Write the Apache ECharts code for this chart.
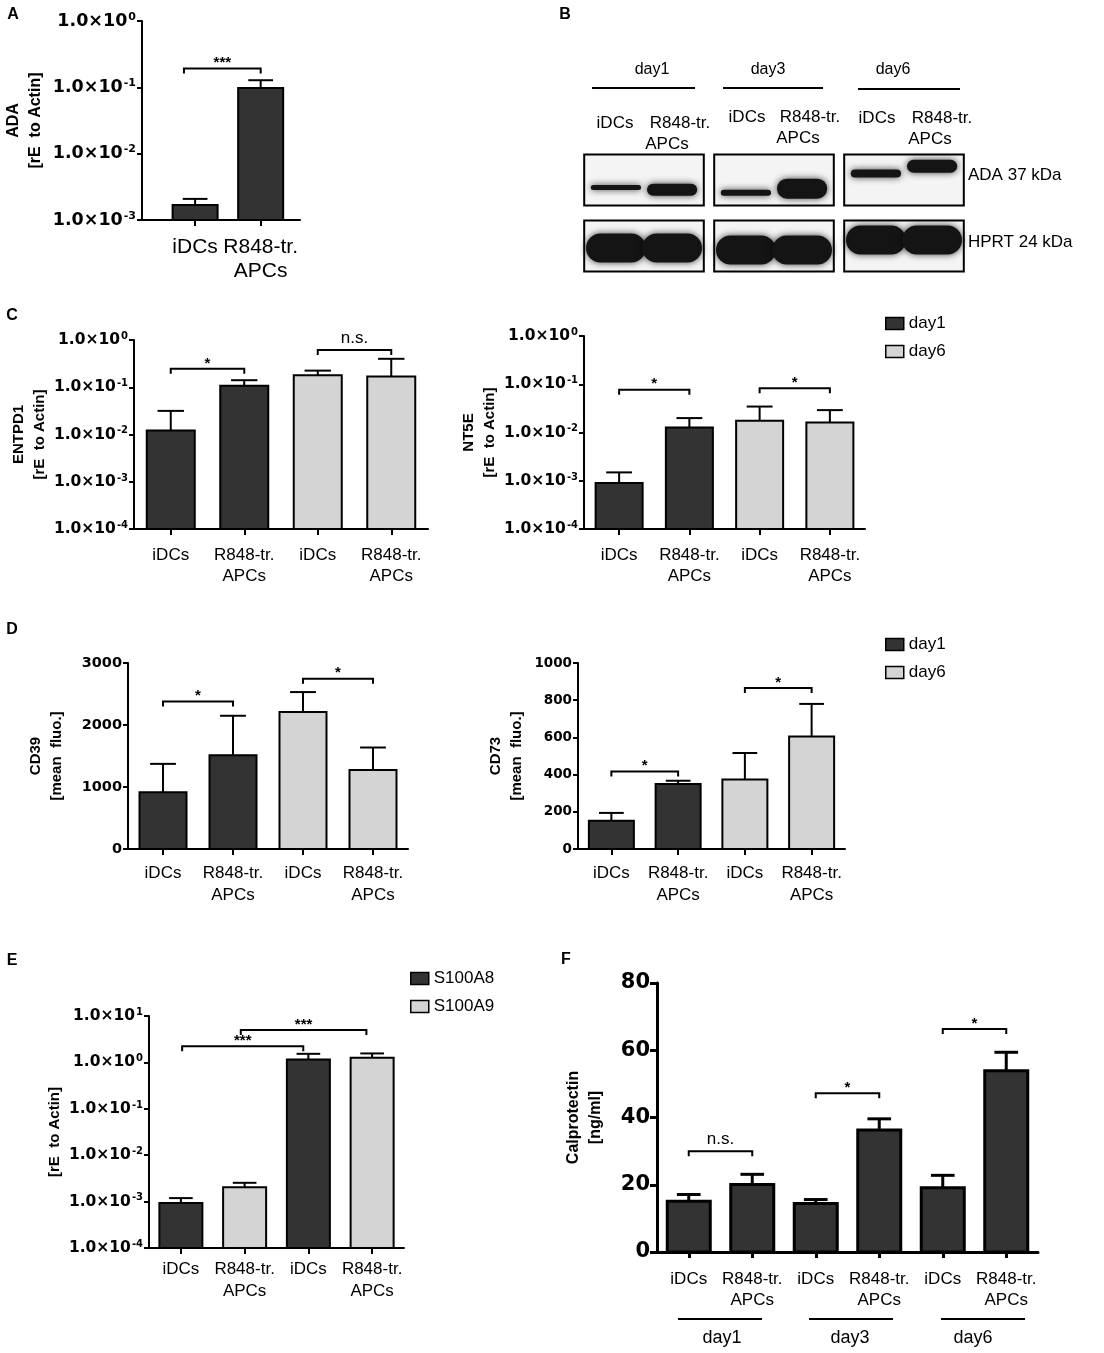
<!DOCTYPE html>
<html>
<head>
<meta charset="utf-8">
<script src="https://cdn.jsdelivr.net/npm/echarts@6/dist/echarts.min.js"></script>
<style>html,body{margin:0;padding:0;background:#fff}#main{width:1104px;height:1353px}</style>
</head>
<body>
<div id="main"></div>
<script>
// values (means and SEM-like error heights)
var twoCats = ['iDCs', 'R848-tr.\nAPCs'];
var fourCats = ['iDCs', 'R848-tr.\nAPCs', 'iDCs', 'R848-tr.\nAPCs'];
var sixCats = ['iDCs', 'R848-tr.\nAPCs', 'iDCs', 'R848-tr.\nAPCs', 'iDCs', 'R848-tr.\nAPCs'];

var adaMean = [0.00168, 0.098];
var adaSem = [0.0004, 0.030];
var adaSig = [[0.83, 2, 0.193]];
var adaSigText = ['***'];

var dayGroup = [0, 0, 1, 1];
var entpd1Mean = [0.0121, 0.107, 0.18, 0.168];
var entpd1Sem = [0.0195, 0.034, 0.045, 0.232];
var entpd1Sig = [[1, 2, 0.245], [3, 4, 0.617]];
var entpd1SigText = ['*', 'n.s.'];

var nt5eMean = [0.0009, 0.0127, 0.0175, 0.0161];
var nt5eSem = [0.00059, 0.0072, 0.017, 0.013];
var nt5eSig = [[1, 2, 0.0766], [3, 4, 0.0828]];
var nt5eSigText = ['*', '*'];

var cd39Mean = [916, 1514, 2208, 1276];
var cd39Sem = [457, 635, 323, 361];
var cd39Sig = [[1, 2, 2380], [3, 4, 2746]];
var cd39SigText = ['*', '*'];

var cd73Mean = [152, 349, 373, 605];
var cd73Sem = [42, 18, 143, 175];
var cd73Sig = [[1, 2, 417], [3, 4, 866]];
var cd73SigText = ['*', '*'];

var geneGroup = [0, 1, 0, 1];
var s100Mean = [0.00093, 0.00205, 1.16, 1.26];
var s100Sem = [0.00026, 0.00049, 0.37, 0.30];
var s100Sig = [[1.02, 2.92, 2.24], [1.94, 3.91, 5.0]];
var s100SigText = ['***', '***'];

var calproMean = [15.1, 20.1, 14.4, 36.3, 19.1, 53.9];
var calproSem = [2.0, 3.0, 1.2, 3.3, 3.7, 5.5];
var calproSig = [[1, 2, 30], [3, 4, 47.2], [5, 6, 66.3]];
var calproSigText = ['n.s.', '*', '*'];

var blotDays = ['day1', 'day3', 'day6'];
var adaBand = [0.25, 0.6, 0.3, 1.0, 0.4, 0.65];
var hprtBand = [1, 1, 1, 1, 1, 1];

var FONT = '"Liberation Sans", Arial, Helvetica, sans-serif';
var TICKFONT = '"DejaVu Sans", "Liberation Sans", sans-serif';
var DARK = '#333333', LIGHT = '#d4d4d4';

var myChart = echarts.init(document.getElementById('main'));
var grids = [], xAxes = [], yAxes = [], series = [], graphics = [];

function logLabel(v) {
    var e = Math.round(Math.log(v) / Math.LN10);
    return '{b|1.0\u00d710}{s|' + e + '}';
}

function barRenderer(bw, lw) {
    return function (params, api) {
        var x = api.value(0), m = api.value(1), e = api.value(2);
        var cs = params.coordSys;
        var top = api.coord([x, m]);
        var errTop = api.coord([x, m + e]);
        var bottom = cs.y + cs.height;
        var cap = bw * 0.55;
        var ls = {stroke: '#000', lineWidth: lw};
        return {
            type: 'group',
            children: [
                {type: 'line', shape: {x1: top[0], y1: top[1], x2: top[0], y2: errTop[1]}, style: ls},
                {type: 'line', shape: {x1: top[0] - cap / 2, y1: errTop[1], x2: top[0] + cap / 2, y2: errTop[1]}, style: ls},
                {type: 'rect', shape: {x: top[0] - bw / 2, y: top[1], width: bw, height: bottom - top[1]},
                    style: {fill: api.visual('color'), stroke: '#000', lineWidth: lw}}
            ]
        };
    };
}

function sigRenderer(labels, lw) {
    return function (params, api) {
        var p1 = api.coord([api.value(0), api.value(2)]);
        var p2 = api.coord([api.value(1), api.value(2)]);
        var t = labels[params.dataIndex];
        var star = t.indexOf('*') >= 0;
        return {
            type: 'group',
            children: [
                {type: 'polyline', shape: {points: [[p1[0], p1[1] + 5], [p1[0], p1[1]], [p2[0], p2[1]], [p2[0], p2[1] + 5]]},
                    style: {stroke: '#000', lineWidth: lw, fill: null}},
                {type: 'text', style: {text: t, x: (p1[0] + p2[0]) / 2, y: p1[1] - (star ? -2 : 3),
                    align: 'center', verticalAlign: 'bottom', textAlign: 'center', textVerticalAlign: 'bottom',
                    fontSize: star ? 15 : 17, fontWeight: star ? 'bold' : 'normal', fontFamily: FONT, fill: '#000'}}
            ]
        };
    };
}

function addPanel(p) {
    var gi = grids.length;
    var lw = p.lw;
    grids.push({left: p.left, top: p.top, width: p.width, height: p.height});
    var ticks = p.cats.map(function (c, i) { return i + 1; });
    xAxes.push({
        type: 'value', gridIndex: gi, min: p.xMin, max: p.xMax, splitLine: {show: false},
        axisLine: {onZero: false, lineStyle: {color: '#000', width: lw}},
        axisTick: {customValues: ticks, length: 6, lineStyle: {color: '#000', width: lw}},
        axisLabel: {customValues: ticks, formatter: function (v) { return p.cats[Math.round(v) - 1] || ''; },
            color: '#000', fontSize: p.xFs, fontFamily: FONT, lineHeight: p.xLh, margin: p.xMargin}
    });
    var y = {
        gridIndex: gi, splitLine: {show: false},
        axisLine: {show: true, onZero: false, lineStyle: {color: '#000', width: lw}},
        axisTick: {show: true, length: p.tickLen || 5, lineStyle: {color: '#000', width: lw}},
        name: p.name, nameLocation: 'middle', nameRotate: 90, nameGap: p.nameGap,
        nameTextStyle: {color: '#000', fontSize: p.nameFs, fontWeight: 'bold', fontFamily: FONT, lineHeight: p.nameFs + 6}
    };
    if (p.log) {
        y.type = 'log'; y.logBase = 10; y.min = p.yMin; y.max = p.yMax;
        y.axisLabel = {formatter: logLabel, margin: 6, rich: {
            b: {fontSize: p.yFs, fontWeight: 'bold', fontFamily: TICKFONT, color: '#000', lineHeight: p.yFs + 2},
            s: {fontSize: Math.round(p.yFs * 0.62), fontWeight: 'bold', fontFamily: TICKFONT, color: '#000', verticalAlign: 'top', padding: [0, 0, 0, 1]}
        }};
    } else {
        y.type = 'value'; y.min = p.yMin; y.max = p.yMax; y.interval = p.yInterval;
        y.axisLabel = {margin: p.yMargin || 6, color: '#000', fontSize: p.yFs, fontWeight: 'bold', fontFamily: TICKFONT,
            formatter: function (v) { return String(v); }};
    }
    yAxes.push(y);
    p.groups.forEach(function (g, k) {
        var data = [];
        p.mean.forEach(function (m, i) {
            if (p.groupOf[i] === k) data.push([i + 1, m, p.sem[i]]);
        });
        series.push({
            type: 'custom', name: g.name, xAxisIndex: gi, yAxisIndex: gi, silent: true, clip: false, z: 3,
            itemStyle: {color: g.color, borderColor: '#000', borderWidth: 1.5},
            encode: {x: 0, y: 1}, renderItem: barRenderer(p.barWidth, lw), data: data
        });
    });
    series.push({
        type: 'custom', name: 'sig' + gi, xAxisIndex: gi, yAxisIndex: gi, silent: true, clip: false, z: 3,
        encode: {x: [0, 1], y: 2}, renderItem: sigRenderer(p.sigText, 2), data: p.sig
    });
}

var allDark = [0, 0, 0, 0, 0, 0];

addPanel({left: 142, top: 21, width: 158, height: 199, xMin: 0.19, xMax: 2.6, cats: twoCats,
    log: true, yMin: 1e-3, yMax: 1, yFs: 17.5, barWidth: 45, lw: 2,
    xFs: 21, xLh: 24, xMargin: 15, name: 'ADA\n[rE  to Actin]', nameFs: 16, nameGap: 95,
    mean: adaMean, sem: adaSem, groupOf: allDark, groups: [{name: 'ADA', color: DARK}],
    sig: adaSig, sigText: adaSigText});

addPanel({left: 134, top: 340, width: 294, height: 189, xMin: 0.5, xMax: 4.5, cats: fourCats,
    log: true, yMin: 1e-4, yMax: 1, yFs: 15.5, barWidth: 48, lw: 2,
    xFs: 17, xLh: 21, xMargin: 16, name: 'ENTPD1\n[rE  to Actin]', nameFs: 15, nameGap: 84,
    mean: entpd1Mean, sem: entpd1Sem, groupOf: dayGroup, groups: [{name: 'day1', color: DARK}, {name: 'day6', color: LIGHT}],
    sig: entpd1Sig, sigText: entpd1SigText});

addPanel({left: 584, top: 336, width: 281, height: 193, xMin: 0.5, xMax: 4.5, cats: fourCats,
    log: true, yMin: 1e-4, yMax: 1, yFs: 15.5, barWidth: 47, lw: 2,
    xFs: 17, xLh: 21, xMargin: 16, name: 'NT5E\n[rE  to Actin]', nameFs: 15, nameGap: 81,
    mean: nt5eMean, sem: nt5eSem, groupOf: dayGroup, groups: [{name: 'day1', color: DARK}, {name: 'day6', color: LIGHT}],
    sig: nt5eSig, sigText: nt5eSigText});

addPanel({left: 128, top: 663, width: 280, height: 186, xMin: 0.5, xMax: 4.5, cats: fourCats,
    log: false, yMin: 0, yMax: 3000, yInterval: 1000, yFs: 14.5, barWidth: 47, lw: 2,
    xFs: 17, xLh: 22, xMargin: 13, name: 'CD39\n[mean  fluo.]', nameFs: 15, nameGap: 61,
    mean: cd39Mean, sem: cd39Sem, groupOf: dayGroup, groups: [{name: 'day1', color: DARK}, {name: 'day6', color: LIGHT}],
    sig: cd39Sig, sigText: cd39SigText});

addPanel({left: 578, top: 663, width: 267, height: 186, xMin: 0.5, xMax: 4.5, cats: fourCats,
    log: false, yMin: 0, yMax: 1000, yInterval: 200, yFs: 13.5, barWidth: 45, lw: 2,
    xFs: 17, xLh: 22, xMargin: 13, name: 'CD73\n[mean  fluo.]', nameFs: 15, nameGap: 51,
    mean: cd73Mean, sem: cd73Sem, groupOf: dayGroup, groups: [{name: 'day1', color: DARK}, {name: 'day6', color: LIGHT}],
    sig: cd73Sig, sigText: cd73SigText});

addPanel({left: 149, top: 1016, width: 255, height: 232, xMin: 0.5, xMax: 4.5, cats: fourCats,
    log: true, yMin: 1e-4, yMax: 10, yFs: 15.5, barWidth: 43, lw: 2,
    xFs: 17, xLh: 22, xMargin: 10, name: '[rE  to Actin]', nameFs: 15, nameGap: 82,
    mean: s100Mean, sem: s100Sem, groupOf: geneGroup, groups: [{name: 'S100A8', color: DARK}, {name: 'S100A9', color: LIGHT}],
    sig: s100Sig, sigText: s100SigText});

addPanel({left: 657, top: 983, width: 381, height: 269, xMin: 0.5, xMax: 6.5, cats: sixCats,
    log: false, yMin: 0, yMax: 80, yInterval: 20, yFs: 21, yMargin: 7, tickLen: 7, barWidth: 43, lw: 3,
    xFs: 17, xLh: 21, xMargin: 17, name: 'Calprotectin\n[ng/ml]', nameFs: 16, nameGap: 50,
    mean: calproMean, sem: calproSem, groupOf: allDark, groups: [{name: 'Calprotectin', color: DARK}],
    sig: calproSig, sigText: calproSigText});

// western blot (panel B) on a hidden grid: x = day group, y = row (ADA / HPRT)
var blotGrid = grids.length;
grids.push({left: 579, top: 147, width: 390, height: 132});
xAxes.push({type: 'value', gridIndex: blotGrid, min: 0, max: 3, show: false});
yAxes.push({type: 'value', gridIndex: blotGrid, min: 0, max: 2, inverse: true, show: false});
var adaShift = [[0.15, 0.19], [0.25, 0.17], [-0.13, -0.27]];
var hprtShift = [0.04, 0.08, -0.12];
series.push({
    type: 'custom', name: 'blot', xAxisIndex: blotGrid, yAxisIndex: blotGrid, silent: true, clip: false,
    data: blotDays.map(function (d, g) { return [g, 0]; }),
    renderItem: function (params, api) {
        var g = api.value(0);
        var unit = api.size([1, 1]);
        var bw = unit[0] * 0.92, bh = unit[1] * 0.77;
        var kids = [];
        [0, 1].forEach(function (row) {
            var c = api.coord([g + 0.5, row + 0.5]);
            kids.push({type: 'rect', shape: {x: c[0] - bw / 2, y: c[1] - bh / 2, width: bw, height: bh},
                style: {fill: '#f4f4f4', stroke: 'none'}});
            [0, 1].forEach(function (l) {
                var k = g * 2 + l;
                var s = row === 0 ? adaBand[k] : hprtBand[k];
                var th = row === 0 ? s * 20 : s * 29;
                var lx = c[0] + (l === 0 ? -0.235 : 0.235) * bw;
                var ly = c[1] + (row === 0 ? adaShift[g][l] : hprtShift[g]) * bh;
                var w = bw * (row === 0 ? 0.42 : 0.5);
                kids.push({type: 'rect', shape: {x: lx - w / 2, y: ly - th / 2, width: w, height: th, r: th / 2},
                    style: {fill: '#141414', shadowBlur: 7, shadowColor: 'rgba(0,0,0,0.75)'}});
            });
            kids.push({type: 'rect', shape: {x: c[0] - bw / 2, y: c[1] - bh / 2, width: bw, height: bh},
                style: {fill: 'none', stroke: '#000', lineWidth: 2}});
        });
        return {type: 'group', children: kids};
    }
});

function txt(x, y, s, size, weight, align) {
    graphics.push({type: 'text', x: x, y: y, silent: true, style: {text: s, fontSize: size, fontWeight: weight || 'normal',
        fontFamily: FONT, fill: '#000', align: align || 'center', verticalAlign: 'middle',
        textAlign: align || 'center', textVerticalAlign: 'middle', lineHeight: size + 4}});
}
function hline(x1, x2, y, w) {
    graphics.push({type: 'line', silent: true, shape: {x1: x1, y1: y, x2: x2, y2: y}, style: {stroke: '#000', lineWidth: w || 2}});
}

// panel letters
txt(13, 15, 'A', 16, 'bold'); txt(565, 15, 'B', 16, 'bold'); txt(12, 316, 'C', 16, 'bold');
txt(12, 630, 'D', 16, 'bold'); txt(12, 961, 'E', 16, 'bold'); txt(566, 960, 'F', 16, 'bold');

// blot annotations
txt(652, 70, 'day1', 16); txt(768, 70, 'day3', 16); txt(893, 70, 'day6', 16);
hline(592, 695, 88); hline(723, 823, 88); hline(858, 960, 89);
txt(615, 123, 'iDCs', 17); txt(680, 123, 'R848-tr.', 17); txt(667, 144, 'APCs', 17);
txt(747, 117, 'iDCs', 17); txt(810, 117, 'R848-tr.', 17); txt(798, 138, 'APCs', 17);
txt(877, 118, 'iDCs', 17); txt(942, 118, 'R848-tr.', 17); txt(930, 139, 'APCs', 17);
txt(968, 175, 'ADA 37 kDa', 17, 'normal', 'left'); txt(968, 242, 'HPRT 24 kDa', 17, 'normal', 'left');

// panel F day grouping under the axis
hline(678, 762, 1319); hline(809, 893, 1319); hline(941, 1025, 1319);
txt(722, 1338, 'day1', 18); txt(850, 1338, 'day3', 18); txt(973, 1338, 'day6', 18);

var legendBase = {orient: 'vertical', itemWidth: 18, itemHeight: 12, itemGap: 11, selectedMode: false,
    textStyle: {fontSize: 17, color: '#000', fontFamily: FONT},
    itemStyle: {borderColor: '#000', borderWidth: 1.5}};

var option = {
    backgroundColor: '#fff',
    animation: false,
    grid: grids,
    xAxis: xAxes,
    yAxis: yAxes,
    legend: [
        Object.assign({left: 880, top: 310, data: [{name: 'day1', icon: 'rect'}, {name: 'day6', icon: 'rect'}]}, legendBase),
        Object.assign({left: 880, top: 631, data: [{name: 'day1', icon: 'rect'}, {name: 'day6', icon: 'rect'}]}, legendBase),
        Object.assign({left: 405, top: 965, data: [{name: 'S100A8', icon: 'rect'}, {name: 'S100A9', icon: 'rect'}]}, legendBase)
    ],
    graphic: graphics,
    series: series
};
myChart.setOption(option);
</script>
</body>
</html>
